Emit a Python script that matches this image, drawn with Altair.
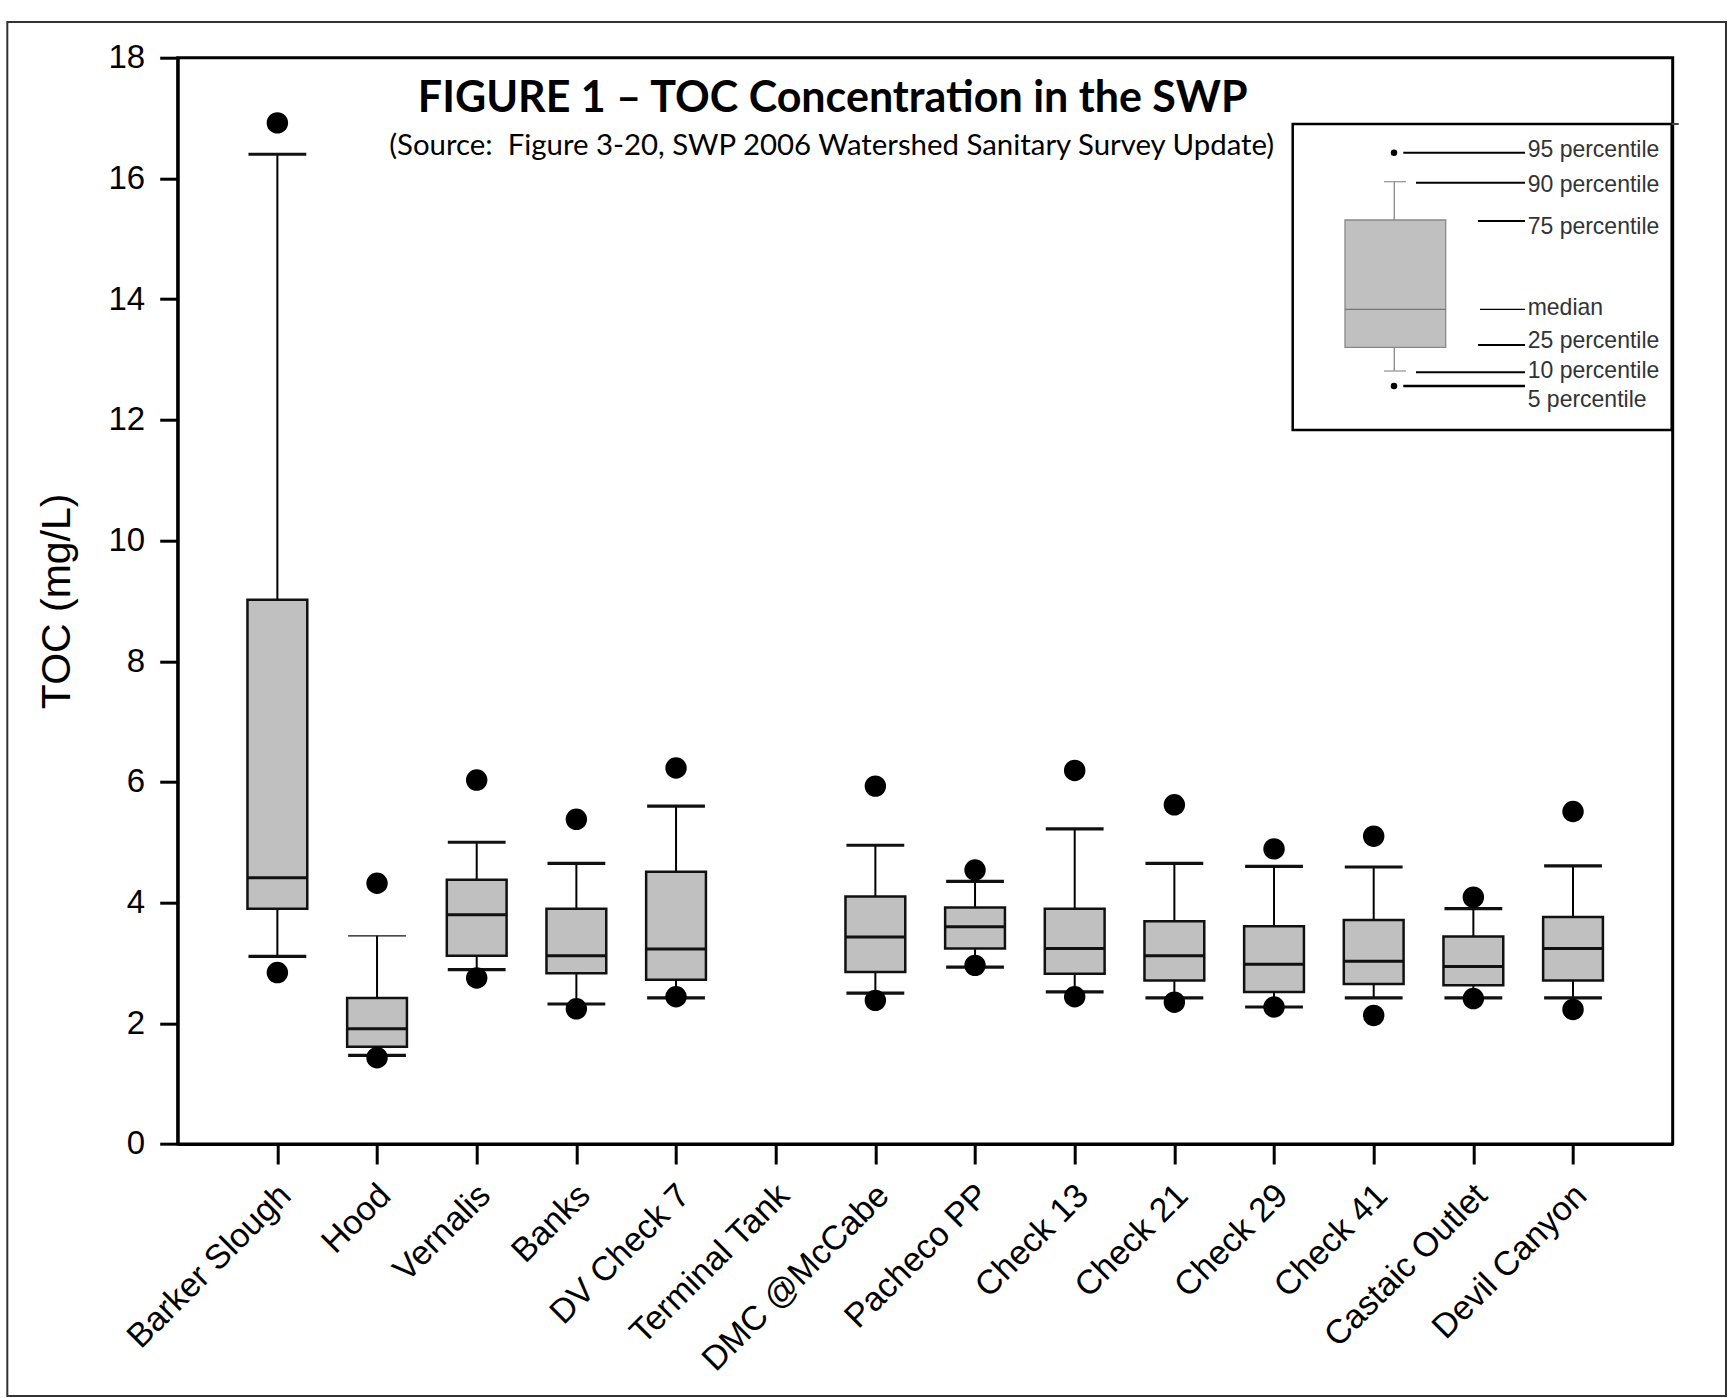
import altair as alt
import pandas as pd

# ---------------- data ----------------
sites = ["Barker Slough", "Hood", "Vernalis", "Banks", "DV Check 7", "Terminal Tank",
         "DMC @McCabe", "Pacheco PP", "Check 13", "Check 21", "Check 29", "Check 41",
         "Castaic Outlet", "Devil Canyon"]
p5 = [2.84, 1.43, 2.75, 2.24, 2.44, None, 2.38, 2.96, 2.44, 2.35, 2.27, 2.13, 2.41, 2.23]
p10 = [3.11, 1.47, 2.89, 2.32, 2.42, None, 2.50, 2.93, 2.52, 2.42, 2.27, 2.42, 2.42, 2.42]
p25 = [3.90, 1.61, 3.12, 2.83, 2.72, None, 2.85, 3.24, 2.82, 2.71, 2.52, 2.65, 2.63, 2.71]
median = [4.41, 1.91, 3.80, 3.12, 3.23, None, 3.43, 3.60, 3.24, 3.12, 2.98, 3.03, 2.94, 3.24]
p75 = [9.02, 2.42, 4.38, 3.90, 4.51, None, 4.10, 3.92, 3.90, 3.69, 3.61, 3.71, 3.44, 3.76]
p90 = [16.40, 3.45, 5.00, 4.65, 5.60, None, 4.95, 4.35, 5.22, 4.65, 4.60, 4.59, 3.90, 4.61]
p95 = [16.92, 4.32, 6.03, 5.38, 6.23, None, 5.93, 4.54, 6.19, 5.62, 4.89, 5.10, 4.09, 5.51]
y_ticks = [0, 2, 4, 6, 8, 10, 12, 14, 16, 18]

title_text = "FIGURE 1 \u2013 TOC Concentration in the SWP"
subtitle_text = "(Source: \u00a0Figure 3-20, SWP 2006 Watershed Sanitary Survey Update)"
y_title = "TOC (mg/L)"
legend_labels = ["95 percentile", "90 percentile", "75 percentile", "median",
                 "25 percentile", "10 percentile", "5 percentile"]

idx = list(range(1, len(sites) + 1))
df = pd.DataFrame({"site": sites, "idx": idx, "p5": p5, "p10": p10, "p25": p25,
                   "median": median, "p75": p75, "p90": p90, "p95": p95}).dropna()

# ---------------- layout ----------------
W, H = 1495, 1086.3
BOX_HALF = 0.30
CAP_HALF = 0.29
FONT = "Liberation Sans"

x_scale = alt.Scale(domain=[0, 15], nice=False, zero=False)
y_scale = alt.Scale(domain=[0, 18], nice=False)

label_expr = "[" + ",".join("'" + s + "'" for s in sites) + "][datum.value - 1]"

x_axis = alt.Axis(values=idx, labelExpr=label_expr, labelAngle=-45, labelAlign="right",
                  labelBaseline="middle", labelFontSize=34, labelFont=FONT, labelColor="black",
                  labelPadding=26, labelOffset=8, labelLimit=0, tickSize=20, tickWidth=3,
                  tickColor="black", domainColor="black", domainWidth=3, grid=False, title=None,
                  labelOverlap=False)
y_axis = alt.Axis(values=y_ticks, format="d", title=y_title, titleFontSize=41, titleFont=FONT,
                  titleFontWeight="normal", titleColor="black", titleX=-108, titleY=H / 2,
                  titleBaseline="alphabetic", labelFontSize=33, labelFont=FONT, labelColor="black",
                  labelPadding=15, tickSize=18, tickWidth=3, tickColor="black",
                  domainColor="black", domainWidth=3, grid=False)

base = alt.Chart(df).transform_calculate(
    bl=f"datum.idx - {BOX_HALF}", br=f"datum.idx + {BOX_HALF}",
    cl=f"datum.idx - {CAP_HALF}", cr=f"datum.idx + {CAP_HALF}")


def X(f):
    return alt.X(f"{f}:Q", scale=x_scale, axis=x_axis)


def Y(f):
    return alt.Y(f"{f}:Q", scale=y_scale, axis=y_axis)


whisker = base.mark_rule(color="black", strokeWidth=2).encode(x=X("idx"), y=Y("p10"), y2="p90:Q")
box = base.mark_rect(fill="#c0c0c0", stroke="#111111", strokeWidth=2.5).encode(
    x=X("bl"), x2="br:Q", y=Y("p25"), y2="p75:Q")
med = base.mark_rule(color="#111111", strokeWidth=3).encode(x=X("bl"), x2="br:Q", y=Y("median"))
cap_hi = base.mark_rule(color="#111111").encode(
    x=X("cl"), x2="cr:Q", y=Y("p90"),
    strokeWidth=alt.condition(alt.datum.site == "Hood", alt.value(1.3), alt.value(3.2)))
cap_lo = base.mark_rule(color="#111111", strokeWidth=3.2).encode(x=X("cl"), x2="cr:Q", y=Y("p10"))
dot_hi = base.mark_circle(color="black", size=460, opacity=1).encode(x=X("idx"), y=Y("p95"))
dot_lo = base.mark_circle(color="black", size=460, opacity=1).encode(x=X("idx"), y=Y("p5"))

# ---------------- titles (inside the plot) ----------------
title = alt.Chart(pd.DataFrame({"t": [title_text]})).mark_text(
    font="Lato", fontWeight="bold", fontSize=43, align="center", baseline="alphabetic",
    color="black").encode(x=alt.value(655), y=alt.value(54), text="t:N")
subtitle = alt.Chart(pd.DataFrame({"t": [subtitle_text]})).mark_text(
    font="Lato", fontSize=29.4, align="center", baseline="alphabetic",
    color="black").encode(x=alt.value(654), y=alt.value(97), text="t:N")

# ---------------- hand-drawn key (pixel layout) ----------------
key_frame = alt.Chart(pd.DataFrame({"a": [0]})).mark_rect(
    fill="white", stroke="black", strokeWidth=2.5).encode(
    x=alt.value(1115), x2=alt.value(1494), y=alt.value(66.3), y2=alt.value(372.3))
key_frame_ext = alt.Chart(pd.DataFrame({"a": [0]})).mark_rule(
    color="#444444", strokeWidth=2).encode(x=alt.value(1494), x2=alt.value(1501), y=alt.value(66.3))

seg = pd.DataFrame({
    "x": [1225.6, 1238.3, 1300.3, 1302.3, 1300.3, 1238.3, 1225.6],
    "x2": [1347.3, 1347.3, 1347.3, 1347.3, 1347.3, 1347.3, 1347.3],
    "y": [95, 125, 163.3, 251.6, 287.3, 314.6, 328.3],
    "w": [2, 2, 2, 1.2, 2, 2, 2.5],
})
key_lines = alt.Chart(seg).mark_rule(color="black").encode(
    x=alt.X("x:Q", scale=None), x2="x2:Q", y=alt.Y("y:Q", scale=None),
    strokeWidth=alt.StrokeWidth("w:Q", scale=None, legend=None))

key_whisk = alt.Chart(pd.DataFrame({"y": [124, 289.6], "y2": [162.3, 313.3]})).mark_rule(
    color="#888888", strokeWidth=1.3).encode(
    x=alt.value(1216.6), y=alt.Y("y:Q", scale=None), y2="y2:Q")
key_caps = alt.Chart(pd.DataFrame({"y": [124, 313.3]})).mark_rule(
    color="#999999", strokeWidth=1.3).encode(
    x=alt.value(1206.3), x2=alt.value(1228.3), y=alt.Y("y:Q", scale=None))
key_box = alt.Chart(pd.DataFrame({"a": [0]})).mark_rect(
    fill="#c0c0c0", stroke="#888888", strokeWidth=1.3).encode(
    x=alt.value(1167.3), x2=alt.value(1268), y=alt.value(162.3), y2=alt.value(289.6))
key_med = alt.Chart(pd.DataFrame({"a": [0]})).mark_rule(
    color="#777777", strokeWidth=1.3).encode(
    x=alt.value(1167.3), x2=alt.value(1268), y=alt.value(251.6))
key_dots = alt.Chart(pd.DataFrame({"y": [95, 328.3]})).mark_circle(
    color="black", size=42, opacity=1).encode(x=alt.value(1216.3), y=alt.Y("y:Q", scale=None))
key_text = alt.Chart(pd.DataFrame({
    "label": legend_labels,
    "y": [99, 134, 176.3, 257.3, 290, 320.6, 349],
})).mark_text(font=FONT, fontSize=23, align="left", baseline="alphabetic", color="#333333").encode(
    x=alt.value(1350), y=alt.Y("y:Q", scale=None), text="label:N")

# ---------------- outer page frame ----------------
page_frame = alt.Chart(pd.DataFrame({"a": [0]})).mark_rect(
    fill="transparent", stroke="#333333", strokeWidth=2).encode(
    x=alt.value(-170.4), x2=alt.value(1548.3), y=alt.value(-35.7), y2=alt.value(1338.3))

chart = alt.layer(
    page_frame, whisker, box, med, cap_hi, cap_lo, dot_hi, dot_lo,
    title, subtitle,
    key_frame, key_frame_ext, key_whisk, key_box, key_med, key_caps, key_lines, key_dots, key_text,
).properties(
    width=W, height=H,
    autosize=alt.AutoSizeParams(type="none"),
    padding={"left": 177.7, "top": 57.7, "right": 60.3, "bottom": 253.7},
    background="white",
).configure_view(stroke="black", strokeWidth=3)

chart.save("out.html", embed_options={"renderer": "svg", "actions": False})
